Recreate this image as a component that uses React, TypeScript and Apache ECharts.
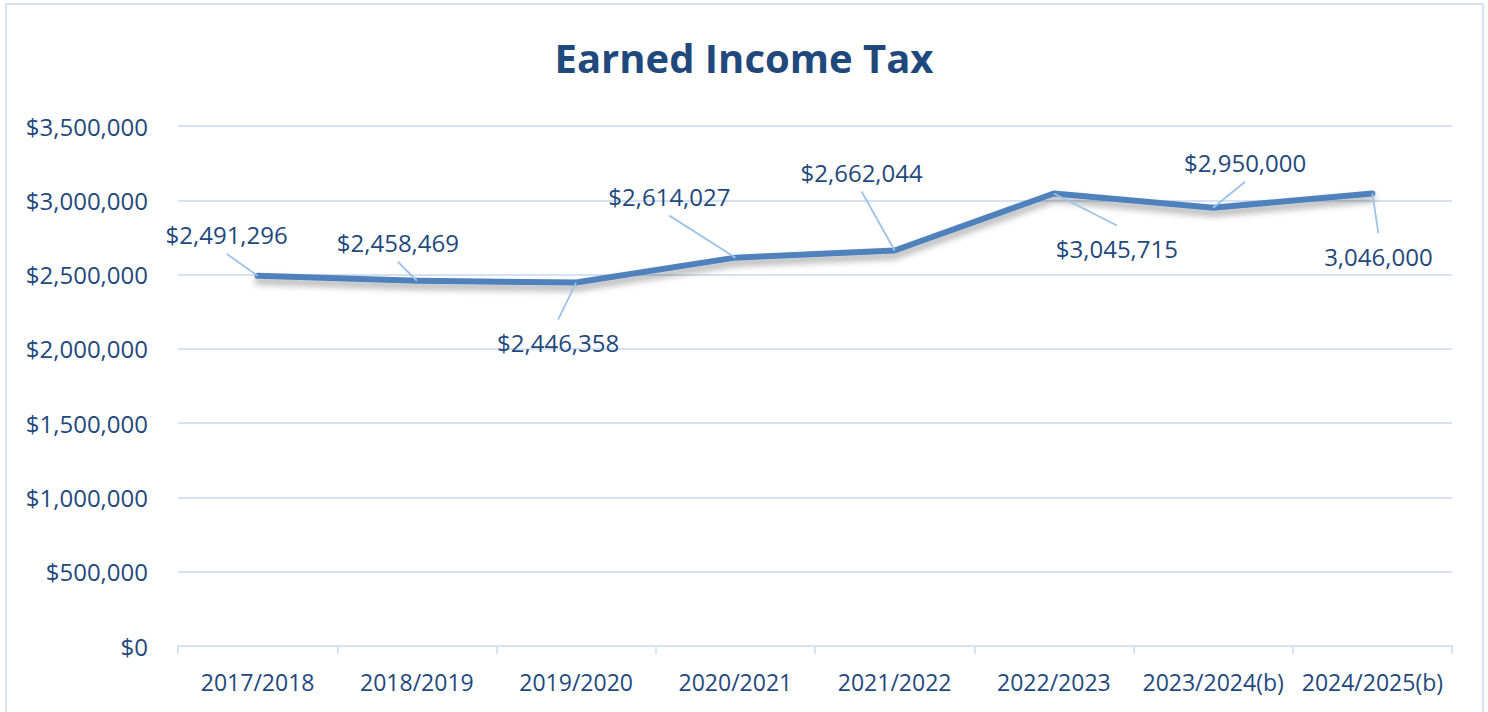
import React, { useEffect, useRef } from "react";
import * as echarts from "echarts";

const categories = [
  "2017/2018",
  "2018/2019",
  "2019/2020",
  "2020/2021",
  "2021/2022",
  "2022/2023",
  "2023/2024(b)",
  "2024/2025(b)",
];
const values = [2491296, 2458469, 2446358, 2614027, 2662044, 3045715, 2950000, 3046000];
const labelTexts = [
  "$2,491,296",
  "$2,458,469",
  "$2,446,358",
  "$2,614,027",
  "$2,662,044",
  "$3,045,715",
  "$2,950,000",
  "3,046,000",
];
// label offsets from the point (label centre), in pixels
const labelOffsets: [number, number][] = [
  [-31, -41],
  [-19, -38],
  [-18, 60],
  [-66, -61],
  [-33, -78],
  [63, 55],
  [32, -45],
  [6, 63],
];

const TEXT = "#1F497D";
const FONT = "'Open Sans', 'Noto Sans', sans-serif";
const LEADER = "#9DC3E6";

export default function App() {
  const ref = useRef<HTMLDivElement>(null);
  useEffect(() => {
    document.body.style.margin = "0";
    if (!ref.current) return;
    const chart = echarts.init(ref.current, undefined, { renderer: "svg" });
    const border = {
      type: "rect",
      shape: { x: 6, y: 4, width: 1477, height: 720 },
      style: { fill: "none", stroke: "#D6E3F3", lineWidth: 2 },
      silent: true,
    };
    chart.setOption({
      animation: false,
      backgroundColor: "#ffffff",
      textStyle: { fontFamily: FONT },
      title: {
        text: "Earned Income Tax",
        left: "center",
        top: 32,
        textStyle: { color: TEXT, fontSize: 40, fontWeight: "bold", fontFamily: FONT },
      },
      graphic: [border],
      grid: { left: 178, right: 36, top: 126, bottom: 66 },
      xAxis: {
        type: "category",
        data: categories,
        boundaryGap: true,
        axisLine: { lineStyle: { color: "#D6E3F3", width: 2 } },
        axisTick: { show: true, length: 8, interval: 0, lineStyle: { color: "#D6E3F3", width: 2 } },
        axisLabel: { color: TEXT, fontSize: 23, margin: 24, interval: 0, fontFamily: FONT },
      },
      yAxis: {
        type: "value",
        min: 0,
        max: 3500000,
        interval: 500000,
        axisLine: { show: false },
        axisTick: { show: false },
        splitLine: { lineStyle: { color: "#D6E2F3", width: 2 } },
        axisLabel: {
          color: TEXT,
          fontSize: 24,
          margin: 30,
          fontFamily: FONT,
          formatter: (v: number) => "$" + v.toLocaleString("en-US"),
        },
      },
      series: [
        {
          type: "line",
          data: values,
          showSymbol: true,
          symbol: "circle",
          symbolSize: 1,
          lineStyle: {
            color: "#4F81BD",
            width: 6,
            cap: "round",
            join: "round",
            shadowColor: "rgba(0,0,0,0.35)",
            shadowBlur: 7,
            shadowOffsetY: 5,
          },
          itemStyle: { color: "#4F81BD" },
          label: {
            show: true,
            position: "inside",
            color: TEXT,
            fontSize: 24,
            fontFamily: FONT,
            formatter: (p: any) => labelTexts[p.dataIndex],
          },
          labelLayout: (p: any) => ({
            dx: labelOffsets[p.dataIndex][0],
            dy: labelOffsets[p.dataIndex][1],
          }),
        },
      ],
    });
    // leader lines from each label's top/bottom centre to its point (via the chart's scales)
    const leaders = values.map((v, i) => {
      const pt = chart.convertToPixel({ seriesIndex: 0 }, [i, v]) as number[];
      const [dx, dy] = labelOffsets[i];
      const cx = pt[0] + dx;
      const cy = pt[1] + dy + (dy < 0 ? 19 : -23);
      return {
        type: "line",
        shape: { x1: cx, y1: cy, x2: pt[0], y2: pt[1] },
        style: { stroke: LEADER, lineWidth: 1.8 },
        silent: true,
        z: 10,
      };
    });
    chart.setOption({ graphic: [border, ...leaders] });
    return () => chart.dispose();
  }, []);
  return <div ref={ref} style={{ width: 1488, height: 712 }} />;
}
